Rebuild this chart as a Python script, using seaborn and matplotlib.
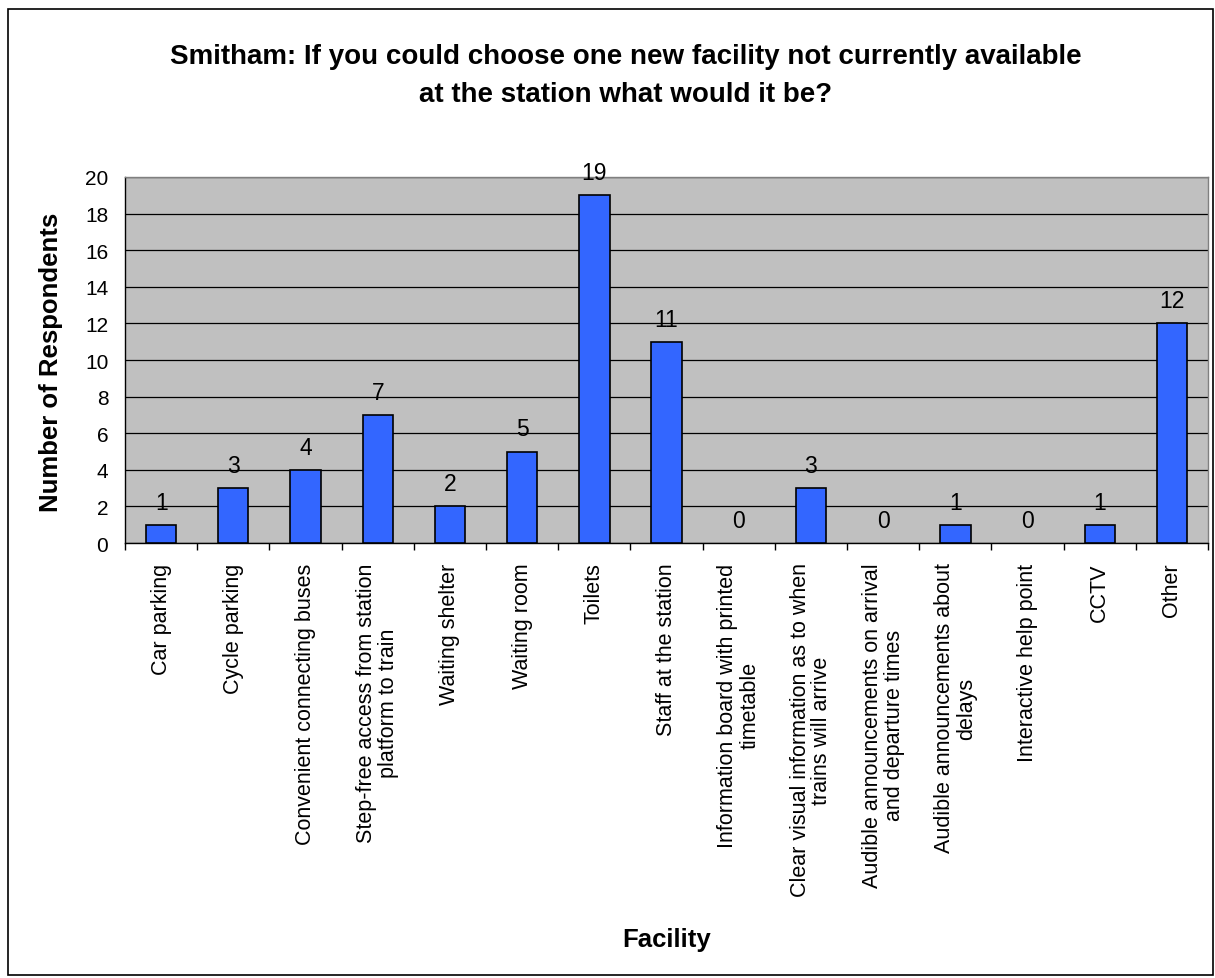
import pandas as pd
import seaborn as sns
import matplotlib.pyplot as plt
from matplotlib.patches import Rectangle

# data
facilities = ['Car parking', 'Cycle parking', 'Convenient connecting buses',
              'Step-free access from station\nplatform to train', 'Waiting shelter',
              'Waiting room', 'Toilets', 'Staff at the station',
              'Information board with printed\ntimetable',
              'Clear visual information as to when\ntrains will arrive',
              'Audible announcements on arrival\nand departure times',
              'Audible announcements about\ndelays', 'Interactive help point',
              'CCTV', 'Other']
respondents = [1, 3, 4, 7, 2, 5, 19, 11, 0, 3, 0, 1, 0, 1, 12]
y_ticks = [0, 2, 4, 6, 8, 10, 12, 14, 16, 18, 20]

df = pd.DataFrame({'Facility': facilities, 'Respondents': respondents})

sns.set_style('white')
plt.rcParams['font.family'] = ['Liberation Sans', 'DejaVu Sans']
plt.rcParams['text.color'] = 'black'
plt.rcParams['axes.labelcolor'] = 'black'
plt.rcParams['xtick.color'] = 'black'
plt.rcParams['ytick.color'] = 'black'

fig = plt.figure(figsize=(12.15, 9.79), dpi=100)
ax = fig.add_axes([0.1029, 0.4443, 0.8914, 0.3739])
ax.set_facecolor('#C0C0C0')

sns.barplot(data=df, x='Facility', y='Respondents', color='#3366FF',
            width=0.42, edgecolor='black', linewidth=1.2, saturation=1, ax=ax, zorder=3)
for bar, v in zip(ax.patches, respondents):
    if v == 0:
        bar.set_linewidth(0)

ax.set_ylim(0, 20)
ax.set_xlim(-0.5, len(facilities) - 0.5)
ax.set_yticks(y_ticks)
ax.yaxis.grid(True, color='black', linewidth=0.9, zorder=1)
ax.set_axisbelow(True)

for i, v in enumerate(respondents):
    ax.annotate(str(v), (i, v), xytext=(0, 8), textcoords='offset points',
                ha='center', va='bottom', fontsize=16.5, zorder=4)

# ticks at category boundaries
ax.set_xticks([i + 0.5 for i in range(-1, len(facilities))], minor=True)
ax.set_xticks(range(len(facilities)))
ax.set_xticklabels(facilities, rotation=90, fontsize=15.5, ha='center', va='top',
                   multialignment='center', linespacing=1.05)
ax.tick_params(axis='x', which='major', length=0, pad=14)
ax.tick_params(axis='x', which='minor', length=5, width=1, color='black', direction='out')
ax.tick_params(axis='y', length=5, width=1, color='black', direction='out', labelsize=15, pad=7)
ax.xaxis.set_tick_params(bottom=True, which='minor')

for side in ['top', 'right']:
    ax.spines[side].set_color('#808080')
    ax.spines[side].set_linewidth(1)
for side in ['left', 'bottom']:
    ax.spines[side].set_color('black')
    ax.spines[side].set_linewidth(1)

ax.set_xlabel('')
ax.set_ylabel('')
fig.text(0.042, 0.630, 'Number of Respondents', rotation=90, ha='center', va='center',
         fontsize=18.5, fontweight='bold')
fig.text(0.549, 0.040, 'Facility', ha='center', va='center', fontsize=18.5, fontweight='bold')
fig.text(0.515, 0.942, 'Smitham: If you could choose one new facility not currently available',
         ha='center', va='center', fontsize=20, fontweight='bold')
fig.text(0.515, 0.903, 'at the station what would it be?',
         ha='center', va='center', fontsize=20, fontweight='bold')

fig.patches.append(Rectangle((0.0066, 0.0031), 0.9918, 0.9867, transform=fig.transFigure,
                             fill=False, edgecolor='black', linewidth=1.2))

fig.savefig('out.png', dpi=100)
